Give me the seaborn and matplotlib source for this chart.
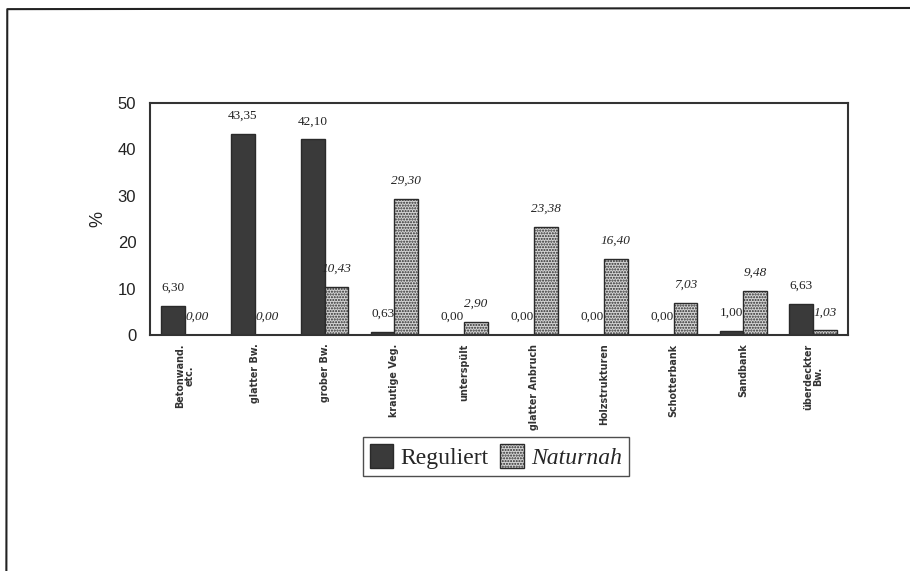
import matplotlib
matplotlib.use("Agg")
import matplotlib.pyplot as plt
from matplotlib.lines import Line2D
from matplotlib.patches import Patch
import pandas as pd
import seaborn as sns

categories = ["Betonwand.\netc.", "glatter Bw.", "grober Bw.", "krautige Veg.",
              "unterspült", "glatter Anbruch", "Holzstrukturen", "Schotterbank",
              "Sandbank", "überdeckter\nBw."]
reguliert = [6.30, 43.35, 42.10, 0.63, 0.00, 0.00, 0.00, 0.00, 1.00, 6.63]
naturnah = [0.00, 0.00, 10.43, 29.30, 2.90, 23.38, 16.40, 7.03, 9.48, 1.03]
series = ["Reguliert", "Naturnah"]
y_ticks = [0, 10, 20, 30, 40, 50]

df = pd.DataFrame({
    "cat": categories * 2,
    "value": reguliert + naturnah,
    "series": [series[0]] * len(categories) + [series[1]] * len(categories),
})

sns.set_style("white")
plt.rcParams["hatch.linewidth"] = 1.0

fig = plt.figure(figsize=(9.1, 5.71), dpi=100)
ax = fig.add_axes([0.165, 0.413, 0.767, 0.407])

dark = "#3a3a3a"
light = "#d4d4d4"
sns.barplot(data=df, x="cat", y="value", hue="series", hue_order=series,
            palette=[dark, light], width=0.68, gap=0, ax=ax,
            edgecolor="#2a2a2a", linewidth=1.0, legend=False)

# second hue -> dotted texture
n = len(categories)
for i, bar in enumerate(ax.patches[:2 * n]):
    if i >= n:
        bar.set_hatch("......")
        bar.set_edgecolor("#2a2a2a")

# value labels
for i, bar in enumerate(ax.patches[:2 * n]):
    val = reguliert[i] if i < n else naturnah[i - n]
    txt = f"{val:.2f}".replace(".", ",")
    x = bar.get_x() + bar.get_width() / 2
    ax.text(x, val + 3.9, txt, ha="center", va="center", fontsize=9.5,
            family="Liberation Serif", style="italic" if i >= n else "normal",
            color="#222222")

ax.set_ylim(0, 50)
ax.set_yticks(y_ticks)
ax.set_yticklabels([str(t) for t in y_ticks], fontsize=12, family="Liberation Sans",
                   color="#222222")
ax.set_xlim(-0.5, n - 0.5)
ax.set_xticks(range(n))
ax.set_xticklabels(categories, rotation=90, fontsize=6.9, family="DejaVu Sans",
                   fontweight="bold", color="#333333", linespacing=1.0,
                   va="top", ha="center")
ax.set_xlabel("")
ax.set_ylabel("%", fontsize=13, family="Liberation Sans", labelpad=8, color="#222222")
ax.tick_params(axis="y", length=4, width=1, direction="out", color="#333333", pad=6)
ax.tick_params(axis="x", length=4, width=1, direction="out", color="#333333", pad=2)
for s in ax.spines.values():
    s.set_color("#333333")
    s.set_linewidth(1.5)

handles = [Patch(facecolor=dark, edgecolor="#2a2a2a"),
           Patch(facecolor=light, edgecolor="#2a2a2a", hatch="......")]
leg = fig.legend(handles, series, loc="center", bbox_to_anchor=(0.545, 0.201),
                 ncol=2, frameon=True, fancybox=False, handlelength=1.0,
                 handleheight=1.2, handletextpad=0.3, columnspacing=0.5,
                 borderpad=0.3, prop={"family": "Liberation Serif", "size": 17})
leg.get_frame().set_edgecolor("#222222")
leg.get_frame().set_linewidth(1.0)
leg.get_texts()[1].set_fontstyle("italic")

# scanned page frame
fig.add_artist(Line2D([0.009, 1.0], [0.984, 0.986], color="#222222", lw=1.5))
fig.add_artist(Line2D([0.008, 0.007], [0.984, 0.0], color="#222222", lw=1.5))

fig.savefig("out.png", dpi=100)
